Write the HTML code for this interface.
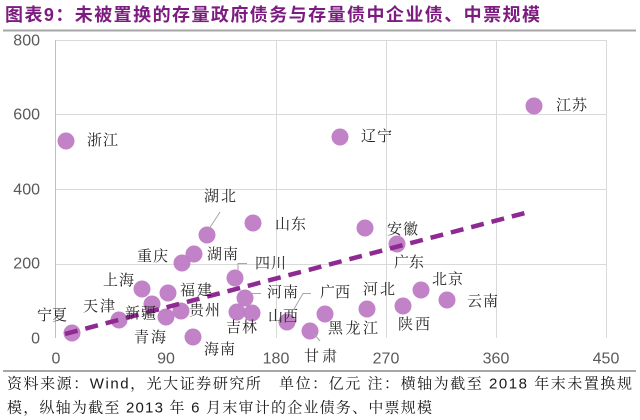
<!DOCTYPE html>
<html><head><meta charset="utf-8">
<style>
html,body{margin:0;padding:0;background:#fff;}
svg{display:block;}
.lab{font-family:"Liberation Serif","Noto Serif CJK SC",serif;font-size:15px;fill:#262626;dominant-baseline:central;}
.tk{font-family:"Liberation Sans",sans-serif;font-size:16px;fill:#595959;dominant-baseline:central;}
.ft{font-family:"Liberation Sans","Noto Serif CJK SC",serif;font-size:15px;fill:#1a1a1a;dominant-baseline:central;}
</style></head>
<body>
<svg width="640" height="420" viewBox="0 0 640 420" xmlns="http://www.w3.org/2000/svg">
<!-- title -->
<text x="5" y="15" textLength="535" lengthAdjust="spacing" style="font-family:'Liberation Sans','Noto Sans CJK SC',sans-serif;font-size:18px;font-weight:bold;fill:#7D1C80;dominant-baseline:central;">图表9：未被置换的存量政府债务与存量债中企业债、中票规模</text>
<line x1="3" y1="30.5" x2="636" y2="30.5" stroke="#A6A6A6" stroke-width="2"/>

<!-- grid -->
<g stroke="#D9D9D9" stroke-width="1" fill="none">
<line x1="56" y1="40.5" x2="606" y2="40.5"/>
<line x1="56" y1="114.5" x2="606" y2="114.5"/>
<line x1="56" y1="189.5" x2="606" y2="189.5"/>
<line x1="56" y1="264.5" x2="606" y2="264.5"/>
<line x1="276.5" y1="40" x2="276.5" y2="338"/>
<line x1="386.5" y1="40" x2="386.5" y2="338"/>
<line x1="496.5" y1="40" x2="496.5" y2="338"/>
<line x1="606.5" y1="40" x2="606.5" y2="338"/>
<line x1="55.5" y1="40" x2="55.5" y2="338" stroke="#BFBFBF"/>
</g>

<!-- y ticks -->
<g class="tk" text-anchor="end">
<text x="40" y="41">800</text>
<text x="40" y="115">600</text>
<text x="40" y="190">400</text>
<text x="40" y="264">200</text>
<text x="40" y="339">0</text>
</g>
<!-- x ticks -->
<g class="tk" text-anchor="middle">
<text x="56" y="359">0</text>
<text x="166" y="359">90</text>
<text x="276" y="359">180</text>
<text x="386" y="359">270</text>
<text x="496" y="359">360</text>
<text x="606" y="359">450</text>
</g>

<!-- points -->
<g fill="#BF7BC5" fill-opacity="0.95">
<circle cx="66" cy="141" r="8.5"/>
<circle cx="534" cy="106" r="8.5"/>
<circle cx="340" cy="137" r="8.5"/>
<circle cx="253" cy="223" r="8.5"/>
<circle cx="207" cy="235" r="8.5"/>
<circle cx="365" cy="228" r="8.5"/>
<circle cx="397" cy="244" r="8.5"/>
<circle cx="194" cy="254" r="8.5"/>
<circle cx="182" cy="263" r="8.5"/>
<circle cx="235" cy="278" r="8.5"/>
<circle cx="142" cy="289" r="8.5"/>
<circle cx="168" cy="293" r="8.5"/>
<circle cx="245" cy="298" r="8.5"/>
<circle cx="421" cy="290" r="8.5"/>
<circle cx="447" cy="300" r="8.5"/>
<circle cx="152" cy="304" r="8.5"/>
<circle cx="403" cy="306" r="8.5"/>
<circle cx="367" cy="309" r="8.5"/>
<circle cx="181" cy="311" r="8.5"/>
<circle cx="237" cy="312" r="8.5"/>
<circle cx="252" cy="313" r="8.5"/>
<circle cx="325" cy="314" r="8.5"/>
<circle cx="166" cy="317" r="8.5"/>
<circle cx="119" cy="320" r="8.5"/>
<circle cx="287" cy="322" r="8.5"/>
<circle cx="310" cy="331" r="8.5"/>
<circle cx="72" cy="333" r="8.5"/>
<circle cx="193" cy="337" r="8.5"/>
</g>

<!-- trend -->
<line x1="65" y1="334" x2="525" y2="213" stroke="#8E2A91" stroke-width="4.5" stroke-dasharray="13 8"/>

<!-- leaders -->
<g stroke="#A6A6A6" stroke-width="1" fill="none">
<polyline points="220,212 209,229"/>
<polyline points="238,270 238,263.5 247,263.5"/>
<polyline points="252,293.5 261,293.5"/>
<polyline points="311,293.5 303,293.5 294,309"/>
<polyline points="313,333 320,341"/>
</g>

<!-- labels -->
<g class="lab">
<text x="87" y="141" textLength="31">浙江</text>
<text x="556" y="106" textLength="31">江苏</text>
<text x="361" y="137" textLength="31">辽宁</text>
<text x="275" y="225" textLength="31">山东</text>
<text x="204" y="197" textLength="32">湖北</text>
<text x="387" y="230" textLength="31">安徽</text>
<text x="394" y="263" textLength="30">广东</text>
<text x="207" y="255" textLength="31">湖南</text>
<text x="137" y="257" textLength="31">重庆</text>
<text x="255" y="264" textLength="31">四川</text>
<text x="103" y="281" textLength="31">上海</text>
<text x="180" y="291" textLength="32">福建</text>
<text x="267" y="293" textLength="31">河南</text>
<text x="432" y="280" textLength="31">北京</text>
<text x="467" y="302" textLength="31">云南</text>
<text x="125" y="314" textLength="31">新疆</text>
<text x="398" y="325" textLength="32">陕西</text>
<text x="363" y="290" textLength="32">河北</text>
<text x="189" y="311" textLength="31">贵州</text>
<text x="226" y="328" textLength="31">吉林</text>
<text x="268" y="317" textLength="30">山西</text>
<text x="328" y="329" textLength="50">黑龙江</text>
<text x="83" y="307" textLength="32">天津</text>
<text x="320" y="293" textLength="30">广西</text>
<text x="304" y="357" textLength="33">甘肃</text>
<text x="37" y="316" textLength="30">宁夏</text>
<text x="134" y="338" textLength="32">青海</text>
<text x="204" y="350" textLength="31">海南</text>
</g>

<!-- footer -->
<line x1="3" y1="371" x2="636" y2="371" stroke="#A6A6A6" stroke-width="2"/>
<text class="ft" x="7" y="384" textLength="625" lengthAdjust="spacing">资料来源：Wind，光大证券研究所　单位：亿元 注：横轴为截至 2018 年末未置换规</text>
<text class="ft" x="7" y="408" textLength="425" lengthAdjust="spacing">模，纵轴为截至 2013 年 6 月末审计的企业债务、中票规模</text>
</svg>
</body></html>
